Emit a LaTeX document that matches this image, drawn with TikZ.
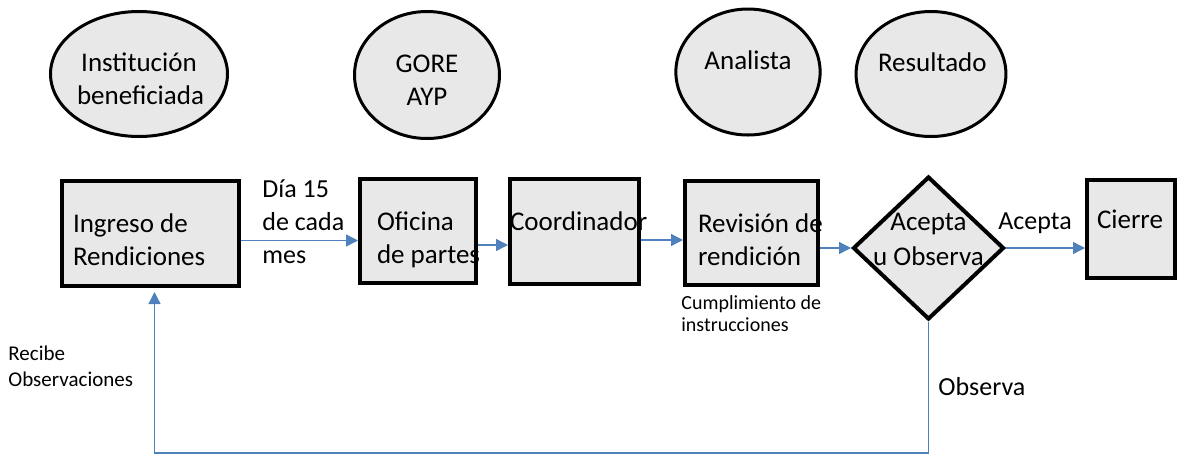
\documentclass[tikz,border=0pt]{standalone}
\usepackage{fontspec}
\setmainfont{Carlito}
\usepackage{tikz}
\usetikzlibrary{shapes.geometric,arrows.meta}

\definecolor{azul}{RGB}{79,129,189}
\definecolor{relleno}{RGB}{232,232,232}

\tikzset{
  elipse/.style={ellipse,draw,line width=1.5pt,fill=relleno,inner sep=0pt,align=flush center,
    text width=51pt,text height=9pt,text depth=12pt,font=\fontsize{13.5}{16.5}\selectfont},
  caja/.style={rectangle,draw,line width=2pt,fill=relleno,inner sep=0pt,align=flush left,
    text height=11pt,text depth=12pt,font=\fontsize{13.5}{16.5}\selectfont},
  rombo/.style={diamond,draw,line width=2pt,fill=relleno,inner sep=-4pt,align=flush center,
    text width=56pt,text height=7pt,text depth=24.5pt,font=\fontsize{13.5}{17.5}\selectfont},
  flecha/.style={draw=azul,line width=0.7pt,-{Triangle[length=6pt,width=6pt]}},
  texto/.style={inner sep=0pt,align=flush left,font=\fontsize{13}{16.5}\selectfont},
  nota/.style={inner sep=0pt,align=flush left,font=\fontsize{10}{11}\selectfont}
}

\begin{document}
\begin{tikzpicture}[x=0.5pt,y=-0.5pt]
\useasboundingbox (0,0) rectangle (1178,456);

\node[elipse,text width=62pt,minimum width=88.5pt,minimum height=62.5pt] (institucion) at (139,74) {Institución\\beneficiada};
\node[elipse,minimum width=72.5pt,minimum height=63.5pt] (gore) at (427,75) {GORE\\AYP};
\node[elipse,minimum width=72pt,minimum height=63pt] (analista) at (748,72) {Analista};
\node[elipse,text width=53pt,minimum width=74.5pt,minimum height=62.5pt] (resultado) at (931,74) {Resultado};

\node[caja,text width=77.5pt,minimum width=88.5pt,minimum height=52.5pt] (ingreso) at (150.5,233.5) {Ingreso de\\Rendiciones};
\node[caja,text width=41pt,minimum width=58pt,minimum height=52pt] (oficina) at (418,231) {Oficina\\\mbox{de partes}};
\node[caja,text width=64.5pt,minimum width=64.5pt,minimum height=52.5pt] (coordinador) at (574.5,231.5) {\mbox{Coordinador}};
\node[caja,text width=53.5pt,minimum width=66.5pt,minimum height=52pt] (revision) at (751.5,233) {\mbox{Revisión de}\\rendición};
\node[rombo,minimum width=75.5pt,minimum height=69pt] (decision) at (928.5,248) {Acepta\\\mbox{u Observa}};
\node[caja,text width=34pt,minimum width=44pt,minimum height=49pt] (cierre) at (1131,229) {Cierre};

\node[texto,anchor=west] (dia) at (262,222) {Día 15\\de cada\\mes};
\node[texto,anchor=center] (lacepta) at (1035,223) {Acepta};
\node[texto,anchor=west] (lobserva) at (938,387) {Observa};
\node[nota,anchor=west] (cumple) at (681,314) {Cumplimiento de\\instrucciones};
\node[nota,anchor=west,font=\fontsize{10.5}{13}\selectfont] (recibe) at (8,366) {Recibe\\Observaciones};

\coordinate (fondo) at (0,453);

\draw[flecha] ([yshift=-3.5pt]ingreso.east) -- ([yshift=-3.5pt]ingreso.east -| oficina.west);
\draw[flecha] ([yshift=-7pt]oficina.east) -- ([yshift=-7pt]oficina.east -| coordinador.west);
\draw[flecha] ([yshift=-4.25pt]coordinador.east) -- ([yshift=-4.25pt]coordinador.east -| revision.west);
\draw[flecha] (revision.east |- decision.west) -- (decision.west);
\draw[flecha] (decision.east) -- (decision.east -| cierre.west);
\draw[flecha] (decision.south) -- (decision.south |- fondo) -| ([xshift=2pt,yshift=-2pt]ingreso.south);
\end{tikzpicture}
\end{document}
